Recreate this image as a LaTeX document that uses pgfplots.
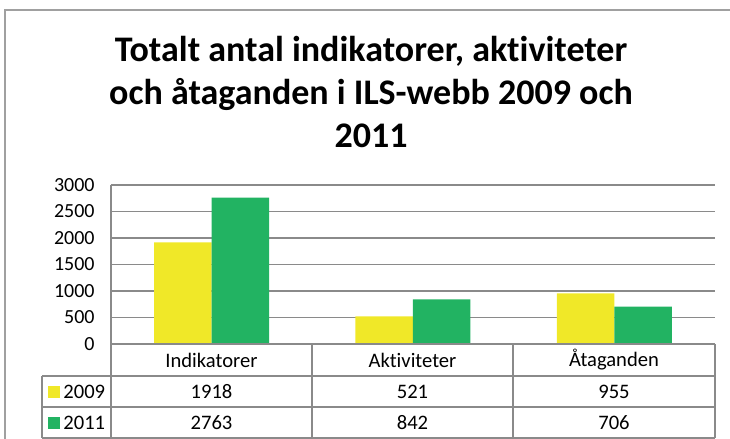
\documentclass[border=0pt]{standalone}
\usepackage{pgfplots}
\pgfplotsset{compat=1.18}
\usepackage{pgfplotstable}
\usepackage{fontspec}
\setmainfont{Carlito}[Ligatures=NoCommon]
\definecolor{yel}{RGB}{240,232,40}
\definecolor{grn}{RGB}{34,179,98}
\definecolor{gridc}{RGB}{138,138,138}
\definecolor{framec}{RGB}{160,160,160}
\pgfplotstableread{
x y2009 y2011
0 1918 2763
1 521 842
2 955 706
}\datatable
\begin{document}
\begin{tikzpicture}
\begin{scope}[x=0.5pt,y=-0.5pt]
\useasboundingbox (0,0) rectangle (730,439);
\draw[framec, line width=0.75pt] (5,439) -- (5,10) -- (730,10);
\node[font=\bfseries\fontsize{18}{21.3}\selectfont, align=center] at (371,92) {Totalt antal indikatorer, aktiviteter\\och åtaganden i ILS-webb 2009 och\\2011};
\end{scope}
\begin{axis}[at={(55.5pt,-172pt)}, anchor=south west, scale only axis,
  width=302pt, height=79.5pt, ybar=0pt, bar width=28.75pt,
  xmin=-0.5, xmax=2.5, ymin=0, ymax=3000, ytick={0,500,...,3000}, xtick=\empty,
  ymajorgrids, grid style={gridc, line width=0.75pt},
  axis line style={draw=none}, major tick length=0pt,
  yticklabel style={font=\fontsize{10}{12}\selectfont, inner sep=0pt, xshift=-8pt},
  /pgf/number format/.cd, 1000 sep={}, assume math mode=true]
\addplot[fill=yel, draw=none] table[x=x,y=y2009]{\datatable};
\addplot[fill=grn, draw=none] table[x=x,y=y2011]{\datatable};
\end{axis}
\begin{scope}[x=0.5pt,y=-0.5pt]
\draw[gridc, line width=0.75pt] (111,185) -- (111,438);
\draw[gridc, line width=0.75pt] (111,344) -- (715,344);
\foreach \yy in {376,407,438} \draw[gridc, line width=0.75pt] (42,\yy) -- (715,\yy);
\draw[gridc, line width=0.75pt] (42,376) -- (42,438);
\foreach \xx in {312,513,715} \draw[gridc, line width=0.75pt] (\xx,344) -- (\xx,438);
\begin{scope}[every node/.style={font=\fontsize{10.3}{12}\selectfont}]
\node at (211.5,360) {Indikatorer};
\node at (412.5,360) {Aktiviteter};
\node at (614,360) {Åtaganden};
\node at (211.5,391.5) {1918};
\node at (412.5,391.5) {521};
\node at (614,391.5) {955};
\node at (211.5,422.5) {2763};
\node at (412.5,422.5) {842};
\node at (614,422.5) {706};
\fill[yel] (48,386) rectangle (60,398);
\fill[grn] (48,417) rectangle (60,429);
\node[anchor=west, inner sep=0pt] at (63,391.5) {2009};
\node[anchor=west, inner sep=0pt] at (63,422.5) {2011};
\end{scope}
\end{scope}
\end{tikzpicture}
\end{document}
